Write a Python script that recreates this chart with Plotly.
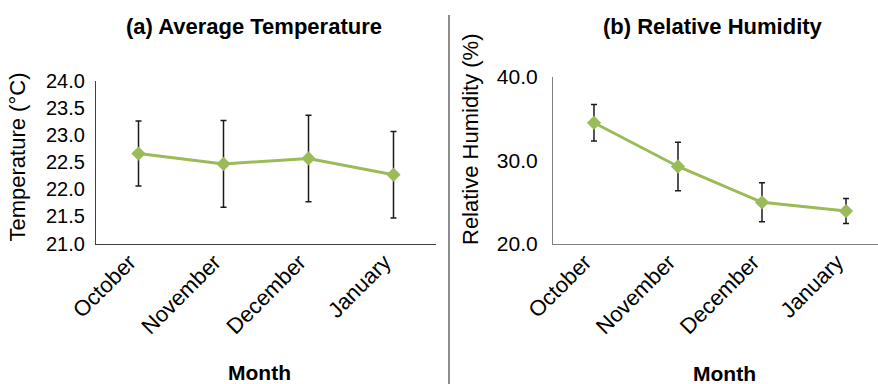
import plotly.graph_objects as go

# Monthly means with standard deviations
months = ["October", "November", "December", "January"]
temp_mean = [22.66, 22.47, 22.57, 22.27]
temp_sd = [0.60, 0.80, 0.80, 0.80]
rh_mean = [34.5, 29.25, 24.95, 23.9]
rh_sd = [2.2, 2.9, 2.35, 1.5]

temp_ticks = [21.0, 21.5, 22.0, 22.5, 23.0, 23.5, 24.0]
rh_ticks = [20.0, 30.0, 40.0]

GREEN = "#9BBB59"
W, H = 878, 384
FONT = "Liberation Sans, Arial, sans-serif"


def px_x(p):
    return p / W


def px_y(p):
    return 1 - p / H


fig = go.Figure()

fig.add_trace(go.Scatter(
    x=months, y=temp_mean, xaxis="x", yaxis="y",
    mode="lines+markers",
    line=dict(color=GREEN, width=3),
    marker=dict(symbol="diamond", size=11, color=GREEN),
    error_y=dict(type="data", array=temp_sd, visible=True,
                 color="#1a1a1a", thickness=1.5, width=3),
    showlegend=False,
))

fig.add_trace(go.Scatter(
    x=months, y=rh_mean, xaxis="x2", yaxis="y2",
    mode="lines+markers",
    line=dict(color=GREEN, width=3),
    marker=dict(symbol="diamond", size=11, color=GREEN),
    error_y=dict(type="data", array=rh_sd, visible=True,
                 color="#1a1a1a", thickness=1.5, width=3),
    showlegend=False,
))

catfont = dict(family=FONT, size=22, color="#000000")

fig.update_layout(
    template="none",
    width=W, height=H,
    margin=dict(l=0, r=0, t=0, b=0, pad=0),
    paper_bgcolor="white", plot_bgcolor="white",
    font=dict(family=FONT, color="#000000"),
    xaxis=dict(
        domain=[px_x(96), px_x(436)], anchor="y", automargin=False,
        type="category", range=[-0.5, 3.5],
        showgrid=False, zeroline=False,
        showline=True, linecolor="#404040", linewidth=1.2,
        ticks="", tickangle=-45, tickfont=catfont,
        ticklabelshift=-9, ticklabelstandoff=-4,
    ),
    yaxis=dict(
        domain=[px_y(243.5), px_y(81)], anchor="x", automargin=False,
        range=[21, 24], tickvals=temp_ticks, tickformat=".1f",
        showgrid=False, zeroline=False,
        showline=True, linecolor="#404040", linewidth=1.2,
        ticks="", tickfont=dict(family=FONT, size=20, color="#000000"),
        ticklabelstandoff=6,
    ),
    xaxis2=dict(
        domain=[px_x(553), 1.0], anchor="y2", automargin=False,
        type="category", range=[-0.488, 3.381],
        showgrid=False, zeroline=False,
        showline=True, linecolor="#7f7f7f", linewidth=1.2,
        ticks="", tickangle=-45, tickfont=catfont,
        ticklabelshift=-9, ticklabelstandoff=-4,
    ),
    yaxis2=dict(
        domain=[px_y(243.5), px_y(77)], anchor="x2", automargin=False,
        range=[20, 40], tickvals=rh_ticks, tickformat=".1f",
        showgrid=False, zeroline=False,
        showline=True, linecolor="#7f7f7f", linewidth=1.2,
        ticks="", tickfont=dict(family=FONT, size=21, color="#000000"),
        ticklabelstandoff=10,
    ),
)

# Divider between the two panels
fig.add_shape(type="line", xref="paper", yref="paper",
              x0=px_x(449), x1=px_x(449), y0=px_y(15), y1=0,
              line=dict(color="#8c8c8c", width=2))

annotations = [
    dict(text="<b>(a) Average Temperature</b>", x=253.5, y=26, size=22, angle=0),
    dict(text="<b>(b) Relative Humidity</b>", x=712.5, y=26, size=22, angle=0),
    dict(text="<b>Month</b>", x=259.5, y=372.5, size=21, angle=0),
    dict(text="<b>Month</b>", x=724.5, y=373, size=21, angle=0),
    dict(text="Temperature (°C)", x=17, y=157.5, size=22, angle=-90),
    dict(text="Relative Humidity (%)", x=470, y=139, size=22, angle=-90),
]
for a in annotations:
    fig.add_annotation(
        text=a["text"], xref="paper", yref="paper",
        x=px_x(a["x"]), y=px_y(a["y"]),
        xanchor="center", yanchor="middle",
        showarrow=False, textangle=a["angle"],
        font=dict(family=FONT, size=a["size"], color="#000000"),
    )

fig.write_html("out.html")
